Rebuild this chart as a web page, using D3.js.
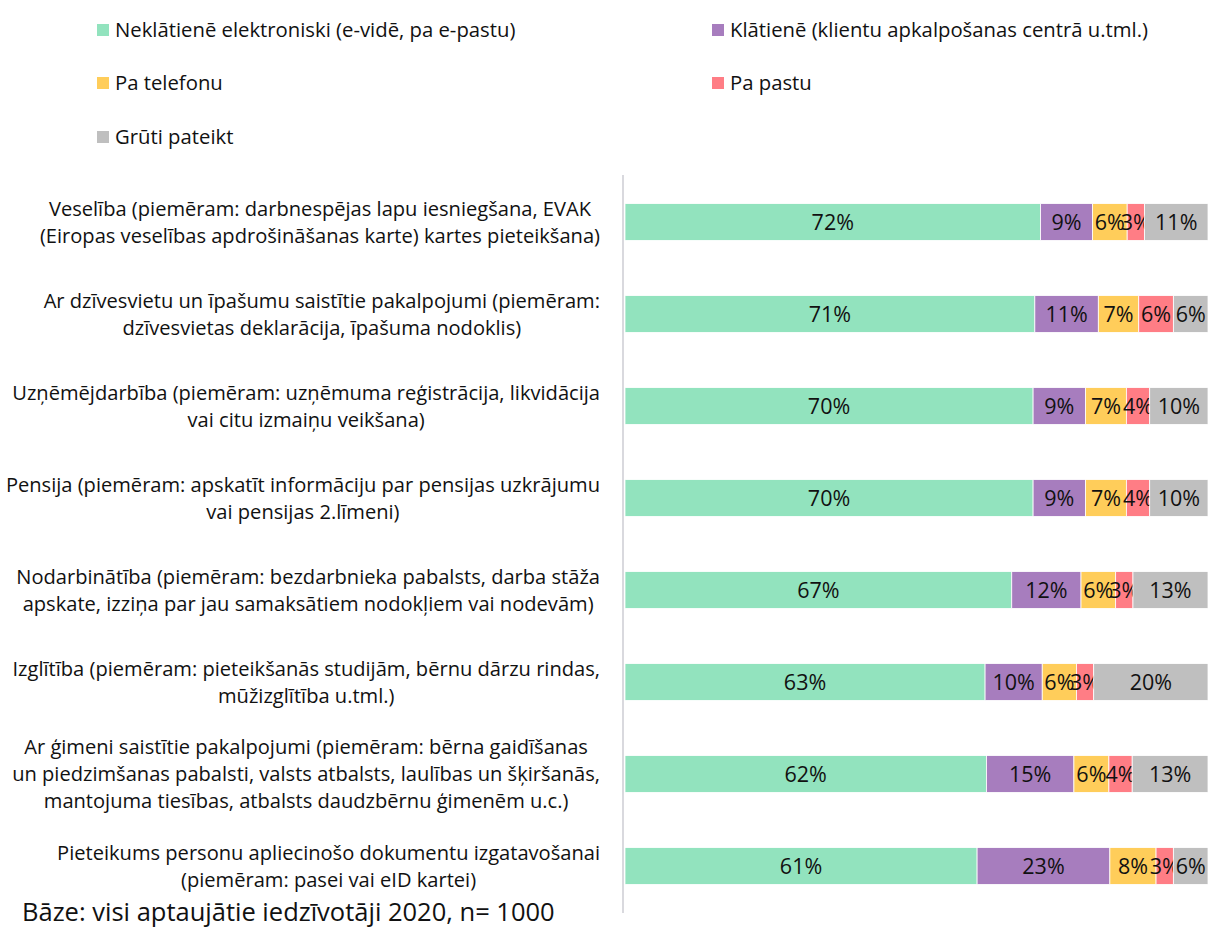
<!DOCTYPE html>
<html>
<head>
<meta charset="utf-8">
<script src="https://cdn.jsdelivr.net/npm/d3@7"></script>
<style>
  body { margin: 0; background: #fff; }
  svg text { font-family: "Open Sans", "Noto Sans", sans-serif; fill: #111; }
</style>
</head>
<body>
<div id="chart"></div>
<script>
// categories (top to bottom), each label split into its lines
var categories = [
  ["Veselība (piemēram: darbnespējas lapu iesniegšana, EVAK", "(Eiropas veselības apdrošināšanas karte) kartes pieteikšana)"],
  ["Ar dzīvesvietu un īpašumu saistītie pakalpojumi (piemēram:", "dzīvesvietas deklarācija, īpašuma nodoklis)"],
  ["Uzņēmējdarbība (piemēram: uzņēmuma reģistrācija, likvidācija", "vai citu izmaiņu veikšana)"],
  ["Pensija (piemēram: apskatīt informāciju par pensijas uzkrājumu", "vai pensijas 2.līmeni)"],
  ["Nodarbinātība (piemēram: bezdarbnieka pabalsts, darba stāža", "apskate, izziņa par jau samaksātiem nodokļiem vai nodevām)"],
  ["Izglītība (piemēram: pieteikšanās studijām, bērnu dārzu rindas,", "mūžizglītība u.tml.)"],
  ["Ar ģimeni saistītie pakalpojumi (piemēram: bērna gaidīšanas", "un piedzimšanas pabalsti, valsts atbalsts, laulības un šķiršanās,", "mantojuma tiesības, atbalsts daudzbērnu ģimenēm u.c.)"],
  ["Pieteikums personu apliecinošo dokumentu izgatavošanai", "(piemēram: pasei vai eID kartei)"]
];

var seriesNames = [
  "Neklātienē elektroniski (e-vidē, pa e-pastu)",
  "Klātienē (klientu apkalpošanas centrā u.tml.)",
  "Pa telefonu",
  "Pa pastu",
  "Grūti pateikt"
];

var colors = ["#92e3be", "#a77dbe", "#ffcd5a", "#ff7d85", "#bfbfbf"];

// values per series, in category order
var electronic = [72, 71, 70, 70, 67, 63, 62, 61];
var inPerson   = [9, 11, 9, 9, 12, 10, 15, 23];
var phone      = [6, 7, 7, 7, 6, 6, 6, 8];
var post       = [3, 6, 4, 4, 3, 3, 4, 3];
var hardToSay  = [11, 6, 10, 10, 13, 20, 13, 6];

var footnote = "Bāze: visi aptaujātie iedzīvotāji 2020, n= 1000";

var W = 1211, H = 929;
var svg = d3.select("#chart").append("svg").attr("width", W).attr("height", H);

var seriesValues = [electronic, inPerson, phone, post, hardToSay];

// rows: normalise each to 100% (rounded values don't always add to 100)
var rows = categories.map(function(c, i) {
  var r = { key: i };
  var total = d3.sum(seriesValues, function(s) { return s[i]; });
  seriesValues.forEach(function(s, j) { r["s" + j] = s[i] / total * 100; r["v" + j] = s[i]; });
  return r;
});

var keys = seriesNames.map(function(d, j) { return "s" + j; });
var stacked = d3.stack().keys(keys)(rows);

var x = d3.scaleLinear().domain([0, 100]).range([625, 1208]);
var y = d3.scaleBand().domain(d3.range(categories.length)).range([176, 912]).paddingInner(0.6).paddingOuter(0.3);

// bars
var layer = svg.selectAll("g.layer").data(stacked).enter().append("g")
  .attr("class", "layer")
  .attr("fill", function(d, j) { return colors[j]; });

layer.selectAll("rect").data(function(d) { return d; }).enter().append("rect")
  .attr("x", function(d) { return x(d[0]); })
  .attr("y", function(d, i) { return y(i); })
  .attr("width", function(d) { return x(d[1]) - x(d[0]); })
  .attr("height", y.bandwidth())
  .attr("stroke", "#fff")
  .attr("stroke-width", 0.8);

// data labels (small segments overlap, as in the source)
layer.each(function(s, j) {
  d3.select(this).selectAll("text").data(s).enter().append("text")
    .attr("x", function(d) { return (x(d[0]) + x(d[1])) / 2; })
    .attr("y", function(d, i) { return y(i) + y.bandwidth() / 2; })
    .attr("dy", "0.36em")
    .attr("text-anchor", "middle")
    .style("font-size", "21.5px")
    .text(function(d) { return d.data["v" + j] + "%"; });
});

// axis line
svg.append("line")
  .attr("x1", 623).attr("x2", 623)
  .attr("y1", 175).attr("y2", 913)
  .attr("stroke", "#d9d9de").attr("stroke-width", 2);

// category labels: centred block, right edge at 600
var lineH = 27;
categories.forEach(function(lines, i) {
  var g = svg.append("g");
  var cy = y(i) + y.bandwidth() / 2;
  var t = g.selectAll("text").data(lines).enter().append("text")
    .attr("text-anchor", "middle")
    .attr("dy", "0.35em")
    .style("font-size", "20.1px")
    .attr("y", function(d, k) { return cy + (k - (lines.length - 1) / 2) * lineH; })
    .text(function(d) { return d; });
  var maxW = d3.max(t.nodes(), function(n) { return n.getComputedTextLength(); });
  t.attr("x", 600 - maxW / 2);
});

// legend
var legendPos = [[97, 30], [712, 30], [97, 83], [712, 83], [97, 137]];
var leg = svg.selectAll("g.leg").data(seriesNames).enter().append("g")
  .attr("class", "leg")
  .attr("transform", function(d, j) { return "translate(" + legendPos[j][0] + "," + legendPos[j][1] + ")"; });
leg.append("rect").attr("x", 0).attr("y", -6).attr("width", 12).attr("height", 12)
  .attr("fill", function(d, j) { return colors[j]; });
leg.append("text").attr("x", 18).attr("dy", "0.35em")
  .style("font-size", "20.3px")
  .text(function(d) { return d; });

// footnote
svg.append("text")
  .attr("x", 22).attr("y", 912).attr("dy", "0.35em")
  .style("font-size", "25.5px")
  .text(footnote);
</script>
</body>
</html>
